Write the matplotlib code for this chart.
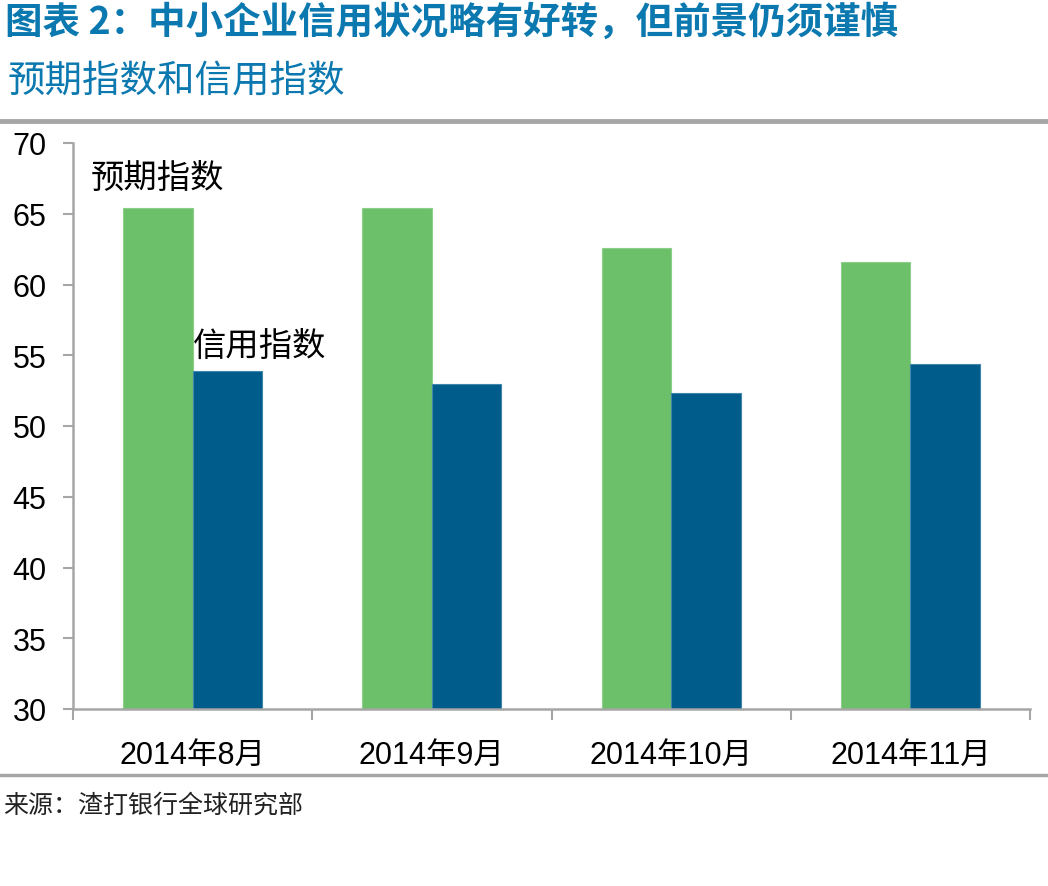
import matplotlib.pyplot as plt
import numpy as np
from matplotlib.lines import Line2D

# 数据
categories = ['2014年8月', '2014年9月', '2014年10月', '2014年11月']
yuqi = [65.4, 65.4, 62.6, 61.6]     # 预期指数
xinyong = [53.9, 53.0, 52.3, 54.4]  # 信用指数
yticks = [30, 35, 40, 45, 50, 55, 60, 65, 70]

green = '#6DC06A'
blue = '#005C8A'
teal = '#0B79B0'
gris = '#A6A6A6'
fuente = ['Liberation Sans Narrow', 'Liberation Sans', 'Noto Sans CJK SC', 'DejaVu Sans']
cjk = ['Noto Sans CJK SC', 'DejaVu Sans']

fig = plt.figure(figsize=(10.48, 8.87), dpi=100)
ax = fig.add_axes([73 / 1048, 1 - 710 / 887, (1030 - 73) / 1048, (710 - 144) / 887])

x = np.arange(len(categories))
w = 0.29
ax.bar(x - w / 2, yuqi, w, color=green, edgecolor='#8CCF89', linewidth=0.8)
ax.bar(x + w / 2, xinyong, w, color=blue, edgecolor='#3F86AD', linewidth=0.8)

ax.set_ylim(30, 70)
ax.set_xlim(-0.5, len(categories) - 0.5)
ax.set_yticks(yticks)
ax.set_yticklabels([str(v) for v in yticks], family=fuente, fontsize=22)
ax.set_xticks(x)
ax.set_xticklabels(categories, family=fuente, fontsize=22)
ax.set_xticks(np.arange(len(categories) + 1) - 0.5, minor=True)

ax.tick_params(axis='x', which='major', length=0, pad=22)
ax.tick_params(axis='x', which='minor', length=8, width=1.5, color=gris, direction='out')
ax.tick_params(axis='y', length=7, width=1.5, color=gris, pad=12)

for s in ['top', 'right']:
    ax.spines[s].set_visible(False)
for s in ['left', 'bottom']:
    ax.spines[s].set_color(gris)
    ax.spines[s].set_linewidth(1.8)

# etiquetas de series
ax.text(x[0] - w / 2, 67.6, '预期指数', ha='center', va='center', fontsize=24, family=cjk)
ax.text(x[0], 55.7, '信用指数', ha='left', va='center', fontsize=24, family=cjk)

# títulos
fig.text(5 / 1048, 1 - 22 / 887, '图表 2：中小企业信用状况略有好转，但前景仍须谨慎',
         ha='left', va='center', fontsize=27, fontweight='bold', color=teal, family=cjk)
fig.text(8 / 1048, 1 - 82 / 887, '预期指数和信用指数', ha='left', va='center',
         fontsize=27, style='italic', color=teal, family=cjk)

# líneas separadoras
fig.add_artist(Line2D([0, 1], [1 - 122 / 887] * 2, color=gris, linewidth=3.5))
fig.add_artist(Line2D([0, 1], [1 - 776 / 887] * 2, color=gris, linewidth=2.5))

fig.text(3 / 1048, 1 - 806 / 887, '来源：渣打银行全球研究部', ha='left', va='center',
         fontsize=18, color='#222222', family=cjk)

fig.savefig('out.png', dpi=100)
